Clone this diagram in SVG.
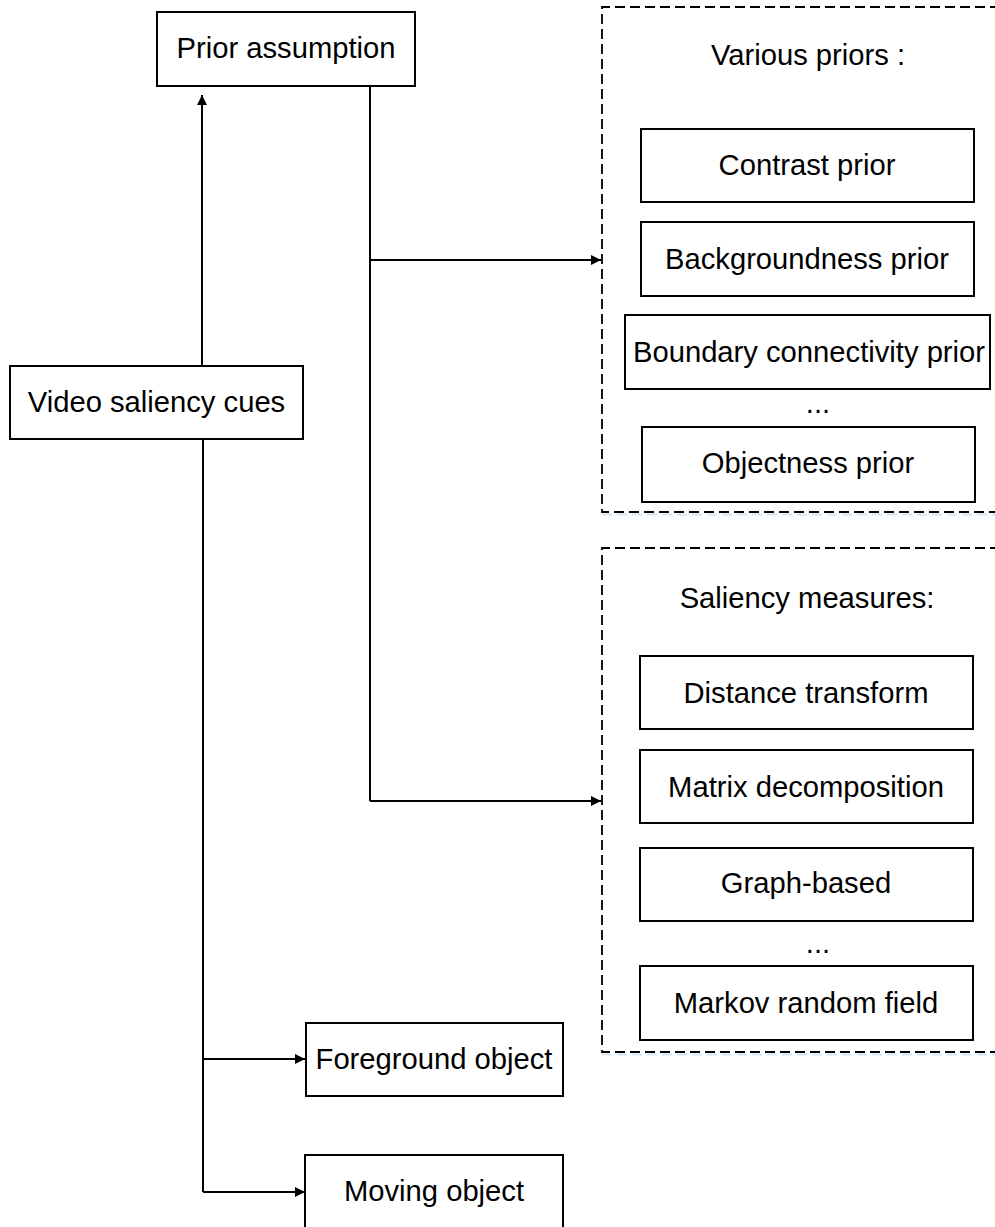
<svg xmlns="http://www.w3.org/2000/svg" width="995" height="1227" viewBox="0 0 995 1227">
<style>
.box{fill:#fff;stroke:#000;stroke-width:2}
.grp{fill:none;stroke:#000;stroke-width:1.8;stroke-dasharray:10 5}
.glow{fill:none;stroke:#d6e6f4;stroke-width:2;stroke-dasharray:10 5}
.t{font-family:"Liberation Sans",Arial,sans-serif;font-size:29.2px;fill:#000;text-anchor:middle}
.c{fill:none;stroke:#000;stroke-width:2}
</style>
<defs>
<marker id="ah" markerWidth="12" markerHeight="12" refX="10" refY="5.5" orient="auto" markerUnits="userSpaceOnUse">
<path d="M0,0.5 L10,5.5 L0,10.5 Z" fill="#000"/>
</marker>
</defs>
<rect width="995" height="1227" fill="#fff"/>
<g id="group-priors">
<path class="glow" d="M602,514.5 H1000"/>
<path class="grp" d="M1000,7 H602 V512 H1000"/>
<text class="t" x="808" y="65">Various priors :</text>
</g>
<g id="group-measures">
<path class="glow" d="M602,1054.5 H1000"/>
<path class="grp" d="M1000,548 H602 V1052 H1000"/>
<text class="t" x="807" y="608">Saliency measures:</text>
</g>
<g id="connectors">
<path class="c" d="M202,365 V95" marker-end="url(#ah)"/>
<path class="c" d="M370,86 V801"/>
<path class="c" d="M370,260 H601" marker-end="url(#ah)"/>
<path class="c" d="M370,801 H601" marker-end="url(#ah)"/>
<path class="c" d="M203,439 V1192"/>
<path class="c" d="M203,1059 H305" marker-end="url(#ah)"/>
<path class="c" d="M203,1192 H305" marker-end="url(#ah)"/>
</g>
<g id="prior-assumption"><rect class="box" x="157" y="12" width="258" height="74"/><text class="t" x="286" y="58">Prior assumption</text></g>
<g id="video-saliency-cues"><rect class="box" x="10" y="366" width="293" height="73"/><text class="t" x="156.5" y="412">Video saliency cues</text></g>
<g id="contrast-prior"><rect class="box" x="641" y="129" width="333" height="73"/><text class="t" x="807" y="175">Contrast prior</text></g>
<g id="backgroundness-prior"><rect class="box" x="641" y="222" width="333" height="74"/><text class="t" x="807" y="269">Backgroundness prior</text></g>
<g id="boundary-connectivity-prior"><rect class="box" x="625" y="315" width="365" height="74"/><text class="t" x="809" y="362">Boundary connectivity prior</text></g>
<g id="dots-1"><text class="t" x="818" y="413">...</text></g>
<g id="objectness-prior"><rect class="box" x="642" y="427" width="333" height="75"/><text class="t" x="808" y="473">Objectness prior</text></g>
<g id="distance-transform"><rect class="box" x="640" y="656" width="333" height="73"/><text class="t" x="806" y="703">Distance transform</text></g>
<g id="matrix-decomposition"><rect class="box" x="640" y="750" width="333" height="73"/><text class="t" x="806" y="797">Matrix decomposition</text></g>
<g id="graph-based"><rect class="box" x="640" y="848" width="333" height="73"/><text class="t" x="806" y="893">Graph-based</text></g>
<g id="dots-2"><text class="t" x="818" y="953">...</text></g>
<g id="markov-random-field"><rect class="box" x="640" y="966" width="333" height="74"/><text class="t" x="806" y="1013">Markov random field</text></g>
<g id="foreground-object"><rect class="box" x="306" y="1023" width="257" height="73"/><text class="t" x="434" y="1069">Foreground object</text></g>
<g id="moving-object"><rect class="box" x="305" y="1155" width="258" height="80"/><text class="t" x="434" y="1201">Moving object</text></g>
</svg>
